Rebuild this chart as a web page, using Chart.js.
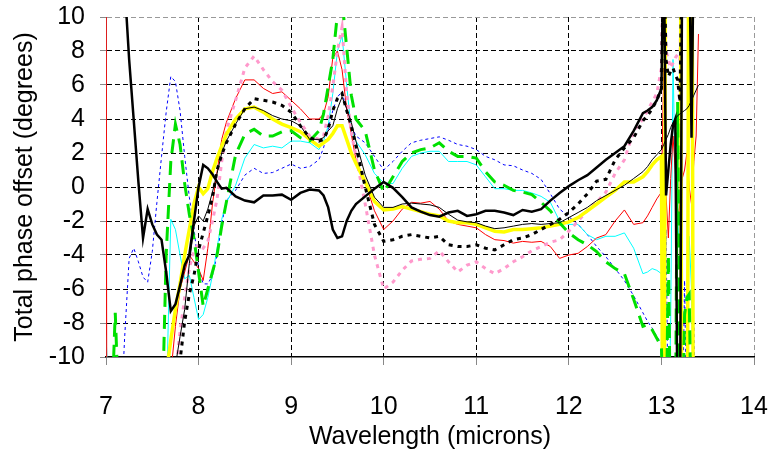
<!DOCTYPE html>
<html>
<head>
<meta charset="utf-8">
<script src="https://cdn.jsdelivr.net/npm/chart.js@4/dist/chart.umd.min.js"></script>
<style>
  html, body { margin: 0; padding: 0; background: #fff; }
</style>
</head>
<body>
<canvas id="phase" width="771" height="452"></canvas>
<script>
// sample wavelengths (microns); finer steps where the traces swing fast
const wavelength = [
  7.00, 7.05, 7.10, 7.15, 7.20, 7.25, 7.30, 7.35, 7.40, 7.45, 7.50, 7.55, 7.60, 7.65,
  7.70, 7.75, 7.80, 7.85, 7.90, 7.95, 8.00, 8.05, 8.10, 8.15, 8.20, 8.25, 8.30,
  8.4, 8.5, 8.6, 8.7, 8.8, 8.9, 9.0, 9.1, 9.2, 9.3,
  9.35, 9.4, 9.45, 9.5, 9.55, 9.6, 9.65, 9.7,
  9.8, 9.9, 10.0, 10.1, 10.2, 10.3, 10.4, 10.5, 10.6, 10.7,
  10.8, 10.9, 11.0, 11.1, 11.2, 11.3, 11.4, 11.5, 11.6, 11.7,
  11.8, 11.9, 12.0, 12.1, 12.2, 12.3, 12.4, 12.5, 12.6, 12.7, 12.8,
  12.85, 12.9, 12.95,
  13.0, 13.025, 13.05, 13.075, 13.1, 13.125, 13.15, 13.175, 13.2, 13.225,
  13.25, 13.275, 13.3, 13.325, 13.35, 13.375, 13.4, 13.425, 13.45
];

const blackThick = [
  20, 18, 16, 14, 12, 7.5, 3.9, 0.3, -3.0, -1.3, -2.2, -2.8, -3.1, -5.0,
  -7.3, -6.9, -5.8, -4.6, -4.0, -2.0, 0, 1.3, 1.1, 0.75, 0.3, -0.1, -0.05,
  -0.55, -0.8, -0.9, -0.5, -0.5, -0.45, -0.75, -0.35, -0.15, -0.2,
  -0.5, -1.2, -2.5, -3.0, -2.9, -2.0, -1.4, -1.0,
  -0.55, -0.1, 0.3, -0.05, -0.6, -1.2, -1.45, -1.65, -1.75, -1.5,
  -1.4, -1.7, -1.6, -1.4, -1.4, -1.5, -1.65, -1.35, -1.45, -1.3,
  -0.8, -0.35, 0.05, 0.4, 0.7, 1.15, 1.6, 2.0, 2.4, 3.3, 4.35,
  4.5, 4.7, 5.1,
  5.8, 15, -0.5, 1, 2.5, 3.6, 4, -15, -15, 15,
  15, 15, 15, 2.9, 15, null, null, null, null
];

const blackThin = [
  -15, -15, -15, -15, -15, -15, -15, -15, -15, -15, -15, -15, -15, -15,
  -15, -10.5, -8.8, -7.2, -4.5, -2.3, -1.7, -2.0, -1.3, -0.3, 0.8, 2.0, 2.7,
  3.7, 4.6, 4.7, 4.5, 4.2, 4.0, 3.9, 3.6, 2.8, 2.8,
  2.9, 3.3, 3.6, 4.6, 5.3, 4.6, 3.8, 2.7,
  0.7, -0.6, -1.2, -1.2, -1.0, -0.95, -1.0, -1.05, -1.2, -1.6,
  -1.95, -2.05, -2.1, -2.3, -2.45, -2.4, -2.3, -2.2, -2.15, -2.2,
  -2.15, -2.1, -1.8, -1.5, -1.2, -0.8, -0.5, -0.2, 0.1, 0.5, 0.9,
  1.2, 1.6, 1.9,
  2.2, 2.5, 2.8, 3.1, 3.5, 3.8, 4.0, 4.2, 4.3, 4.4,
  4.5, 4.6, 4.8, 5.1, 5.4, 5.7, 6.0, null, null
];

const blackDotted = [
  -15, -15, -15, -15, -15, -15, -15, -15, -15, -15, -15, -15, -15, -15,
  -15, -12, -10.2, -7.9, -6.3, -5.2, -3.7, -2.7, -1.7, -0.6, 1.0, 1.9, 2.6,
  3.7, 4.6, 5.2, 5.1, 5.0, 4.8, 4.4, 3.6, 2.9, 2.7,
  2.8, 3.4, 4.5, 5.2, 5.5, 4.5, 3.6, 2.4,
  0.0, -2.2, -3.2, -3.1, -2.9, -2.8, -2.9, -3.0, -2.9, -3.4,
  -3.5, -3.5, -3.4, -3.6, -3.7, -3.4, -3.1, -3.0, -2.8, -2.5,
  -2.2, -1.9, -1.5, -1.0, -0.4, 0.35, 0.45, 1.6, 2.3, 2.9, 3.9,
  4.2, 4.6, 5.1,
  5.8, 14, 7.5, 6.5, 6.8, 7.0, 6.6, 6.3, 5.0, 15,
  null, null, null, null, null, null, null, null, null
];

const pinkDotted = [
  -15, -15, -15, -15, -15, -15, -15, -15, -15, -15, -15, -15, -15, -15,
  -15, -11, -8.5, -6.5, -4.8, -3.7, -3.4, -3.6, -3.2, -2.0, -0.7, 1.5, 3.3,
  5.1, 7.0, 7.7, 6.9, 6.2, 5.7, 4.7, 3.8, 3.0, 2.8,
  3.0, 4.2, 5.9, 8.0, 9.4, 5.5, 3.2, 1.8,
  -1.0, -4.0, -6.0, -5.6, -4.9, -4.35, -4.25, -4.2, -3.75, -4.4,
  -5.0, -4.6, -4.4, -4.8, -5.1, -4.8, -4.4, -4.1, -3.75, -3.5,
  -3.25, -3.1, -2.6, -2.0, -1.4, -0.9, -0.3, 0.8, 1.6, 3.3, 4.0,
  4.5, 5.0, 5.5,
  7, 15, 8, 7.5, 7, 7.3, 7.6, 7.8, 7.5, 15,
  null, null, null, null, null, null, null, null, null
];

const yellowThick = [
  -15, -15, -15, -15, -15, -15, -15, -15, -15, -15, -15, -15, -15, -11,
  -9.0, -7.2, -5.7, -4.0, -2.5, -1.0, 0, -0.4, -0.1, 0.9, 1.7, 2.4, 3.1,
  4.0, 4.6, 4.7, 4.4, 4.0, 3.7, 3.5, 3.25, 2.8, 2.4,
  2.6, 2.8, 3.15, 3.6, 3.6, 2.8, 2.0, 1.4,
  0.3, -0.85, -1.35, -1.3, -1.15, -1.3, -1.45, -1.6, -1.7, -2.0,
  -2.1, -2.1, -2.2, -2.4, -2.6, -2.65, -2.5, -2.5, -2.45, -2.4,
  -2.3, -2.2, -2.05, -1.8, -1.4, -1.0, -0.6, -0.2, 0.3, 0.3, 0.6,
  0.9, 1.3, 1.6,
  1.8, -30, 30, 30, 30, 30, 30, 30, 30, -30,
  -30, -30, 30, 30, -30, null, null, null, null
];

const greenDashed = [
  -15, -15, -7.4, -15, -15, -15, -15, -15, -15, -15, -15, -15, -15, -4,
  1.5, 3.7, 2.5, 0.2, -1.6, -3.0, -5.0, -7.0, -6.0, -5.0, -4.0, -2.3, -0.9,
  1.9, 3.1, 3.4, 3.0, 3.0, 3.25, 3.3, 2.9, 2.7, 3.3,
  4.3, 5.9, 7.5, 10.2, 11, 8.2, 5.4, 4.0,
  3.3, 1.0, -0.3, 0.6, 1.5, 2.0, 2.2, 2.3, 2.6, 2.1,
  1.8, 1.8, 1.7, 0.9, 0.3, 0.1, -0.2, -0.3, -0.45, -0.9,
  -1.4, -2.1, -2.7, -3.1, -3.4, -3.8, -4.4, -4.8, -5.1, -6.6, -8.2,
  -8.1, -8.4, -8.9,
  -9.4, -15, -15, -4, -15, -15, -15, 5, -15, -15,
  -7.5, -6.5, -6.3, -15, null, null, null, null, null
];

const cyanThin = [
  -8.7, -15, -15, -15, -15, -15, -15, -15, -15, -15, -15, -15, -15, -13,
  -1.9, -2.5, -4.0, -5.4, -5.2, -6.5, -7.8, -7.5, -6.5, -5.2, -3.6, -1.9, -0.9,
  0.1, 1.7, 2.5, 2.3, 2.4, 2.3, 2.7, 2.7, 2.6, 2.2,
  2.7, 3.6, 5.5, 8.0, 8.9, 6.0, 3.3, 2.7,
  1.9, 0.8, 0.25, 0.2, 1.1, 1.8, 2.0, 2.1, 2.1, 1.5,
  1.5, 1.5, 1.3, 0.6, -0.1, -0.1, -0.2, -0.2, -0.35, -0.55,
  -0.9, -2.0, -2.2, -2.2, -2.8, -3.1, -2.9, -2.9, -2.7, -3.6, -5.1,
  -5.0, -4.8, -4.9,
  -5.1, -15, -15, -15, -8, 7.5, 0, -2, -4, -15,
  -15, -15, -2.9, -6, -15, null, null, null, null
];

const redThin = [
  20, -180, -15, -15, -15, -15, -15, -15, -15, -15, -15, -15, -15, -15,
  -11, -8.2, -6.0, -5.0, -4.0, -4.4, -4.8, -5.5, -3.6, -1.0, 0.9, 2.8, 3.8,
  5.2, 6.3, 6.3, 5.8, 5.5, 5.6, 5.1, 4.6, 4.0, 4.0,
  4.3, 5.3, 7.6, 8.0, 6.9, 4.6, 3.1, 1.6,
  0.3, -1.4, -2.5, -2.0, -1.3, -0.9, -0.95, -0.85, -1.3, -2.0,
  -2.2, -2.3, -2.4, -2.8, -3.1, -3.15, -3.3, -3.2, -3.25, -3.2,
  -3.5, -4.2, -4.0, -3.9, -3.5, -3.0, -2.8, -2.0, -1.35, -2.2, -2.1,
  -1.7, -1.2, -0.7,
  -0.3, 7, -0.5, -3, 0.5, 3, 1, -2, -1, 0.5,
  1, 2, 0, -1, 1.5, 3, 9, null, null
];

const blueDashed = [
  -15, -15, -15, -15, -9, -4.2, -3.6, -4.4, -5.3, -5.6, -3.8, -0.9, 1.8, 4.4,
  6.5, 6.2, 4.5, 1.8, -0.6, -2.4, -4.8, -5.7, -5.7, -5.2, -4.0, -2.2, -0.8,
  -0.2, 0.7, 1.1, 0.8, 0.85, 1.1, 1.35, 1.1, 1.2, 1.6,
  2.3, 3.4, 4.5, 5.3, 5.6, 4.5, 3.6, 3.0,
  2.6, 1.8, 1.0, 1.5, 2.1, 2.6, 2.75, 2.85, 2.95, 2.75,
  2.5, 2.4, 2.2, 1.8, 1.6, 1.3, 1.25, 1.0, 0.8, 0.45,
  -0.4, -1.3, -1.75, -2.2, -2.8, -3.5, -4.1, -4.8, -5.5, -6.4, -7.4,
  -7.9, -8.3, -8.8,
  -9.2, -15, -2.5, -15, -15, -15, -15, -15, -15, -15,
  -5.5, -15, -15, -15, -8, -15, null, null, null
];

function points(values) {
  return wavelength.map((x, i) => ({ x: x, y: values[i] }));
}

function line(values, color, width, dash) {
  return {
    data: points(values),
    borderColor: color,
    borderWidth: width,
    borderDash: dash || [],
    borderCapStyle: 'butt',
    pointRadius: 0,
    tension: 0,
    clip: 0
  };
}

// keep the plot box fixed: no extra room for overhanging tick labels
function noOverhang(scale) {
  scale.paddingLeft = 0;
  scale.paddingRight = 0;
  scale.paddingTop = 0;
  scale.paddingBottom = 0;
}

// grid colour per tick: frame edges grey, the axis lines left to the border
function gridColor(frameValue, axisValue) {
  return c => {
    if (!c.tick) return '#000';
    if (c.tick.value === frameValue) return '#999';
    if (c.tick.value === axisValue) return 'rgba(0,0,0,0)';
    return '#000';
  };
}

Chart.defaults.font.family = '"Liberation Sans", Arial, sans-serif';
Chart.defaults.color = '#000';

// first dataset is painted last, so the order is top layer first
new Chart(document.getElementById('phase'), {
  type: 'line',
  data: {
    datasets: [
      line(blackThick, '#000000', 2.5),
      line(blackDotted, '#000000', 3, [4, 5]),
      line(blackThin, '#000000', 1),
      line(greenDashed, '#00e000', 3, [14, 8]),
      line(yellowThick, '#ffff00', 3.5),
      line(pinkDotted, '#ff99cc', 3, [4, 5]),
      line(redThin, '#ff0000', 1),
      line(cyanThin, '#00ffff', 1),
      line(blueDashed, '#0000ff', 1, [3, 3])
    ]
  },
  options: {
    responsive: false,
    animation: false,
    layout: { padding: { top: 17, right: 17, left: 0, bottom: 0 } },
    plugins: {
      legend: { display: false },
      tooltip: { enabled: false }
    },
    scales: {
      x: {
        type: 'linear',
        min: 7,
        max: 14,
        ticks: { stepSize: 1, autoSkip: false, maxRotation: 0, padding: 27, font: { size: 25 }, color: '#000' },
        grid: {
          color: gridColor(14, 7),
          lineWidth: 1,
          tickLength: 8,
          tickColor: '#888',
          tickBorderDash: []
        },
        border: { display: true, color: '#000', width: 1.5, dash: [5, 3] },
        title: {
          display: true,
          text: 'Wavelength (microns)',
          font: { size: 25 },
          color: '#000',
          padding: { top: 0, bottom: 0 }
        },
        afterFit: s => { s.height = 95; noOverhang(s); }
      },
      y: {
        min: -10,
        max: 10,
        ticks: { stepSize: 2, autoSkip: false, padding: 15, font: { size: 25 }, color: '#000' },
        grid: {
          color: gridColor(10, -10),
          lineWidth: 1,
          tickLength: 6,
          tickColor: '#888',
          tickBorderDash: []
        },
        border: { display: true, color: '#777', width: 1, dash: [5, 3] },
        title: {
          display: true,
          text: 'Total phase offset (degrees)',
          font: { size: 25 },
          color: '#000',
          padding: { top: 10, bottom: 0 }
        },
        afterFit: s => { s.width = 106; noOverhang(s); }
      }
    }
  }
});
</script>
</body>
</html>
